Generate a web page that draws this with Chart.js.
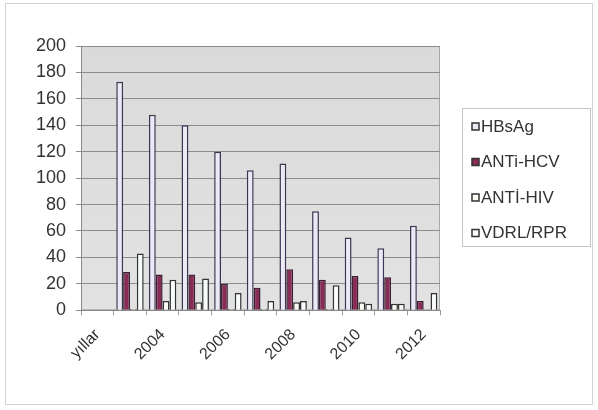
<!DOCTYPE html>
<html>
<head>
<meta charset="utf-8">
<script src="https://cdn.jsdelivr.net/npm/chart.js@4.4.1/dist/chart.umd.min.js"></script>
<style>
    body { margin: 0; background: #ffffff; }
    #frame { position: absolute; left: 5px; top: 3px; width: 586px; height: 400px; border: 1px solid #d4d4d4; }
    #wrap { position: absolute; left: 0; top: 0; width: 598px; height: 410px; }
</style>
</head>
<body>
<div id="frame"></div>
<div id="wrap"><canvas id="chart" width="598" height="410"></canvas></div>
<script>
// values
const years = ['yıllar', '2003', '2004', '2005', '2006', '2007', '2008', '2009', '2010', '2011', '2012'];
const hbsag = [null, 173, 148, 140, 120, 106, 111, 75, 55, 47, 64];
const antiHcv = [null, 29, 27, 27, 20, 17, 31, 23, 26, 25, 7];
const antiHiv = [null, 1, 7, 6, 1, 1, 6, 1, 6, 5, 0];
const vdrl = [null, 43, 23, 24, 13, 7, 7, 19, 5, 5, 13];
const yTicks = [0, 20, 40, 60, 80, 100, 120, 140, 160, 180, 200];

const FONT = 'Liberation Sans, Arial, sans-serif';

// gray plot area
const plotBg = {
    id: 'plotBg',
    beforeDraw(chart) {
        const a = chart.chartArea;
        const ctx = chart.ctx;
        const g = ctx.createLinearGradient(0, a.top, 0, a.bottom);
        g.addColorStop(0, '#dadada');
        g.addColorStop(1, '#e2e2e2');
        ctx.save();
        ctx.fillStyle = g;
        ctx.fillRect(a.left, a.top, a.right - a.left, a.bottom - a.top);
        ctx.strokeStyle = '#a8a8a8';
        ctx.lineWidth = 1;
        ctx.strokeRect(a.left + 0.5, a.top + 0.5, a.right - a.left - 1, a.bottom - a.top - 1);
        ctx.restore();
    }
};

// framed legend on the right, Excel style
const boxLegend = {
    id: 'boxLegend',
    afterDraw(chart) {
        const ctx = chart.ctx;
        const left = chart.chartArea.right + 22;
        const top = 108;
        const w = 128, h = 138;
        ctx.save();
        ctx.strokeStyle = '#c4c4c4';
        ctx.lineWidth = 1;
        ctx.strokeRect(left + 0.5, top + 0.5, w, h);
        ctx.font = '17px ' + FONT;
        ctx.textBaseline = 'middle';
        chart.data.datasets.forEach((ds, i) => {
            const y = top + 19 + i * 35.5;
            ctx.fillStyle = ds.backgroundColor;
            ctx.fillRect(left + 10, y - 4, 7, 7);
            ctx.strokeStyle = '#333333';
            ctx.lineWidth = 1.5;
            ctx.strokeRect(left + 10, y - 4, 7, 7);
            ctx.fillStyle = '#333333';
            ctx.fillText(ds.label, left + 19, y);
        });
        ctx.restore();
    }
};

const ctx = document.getElementById('chart').getContext('2d');
new Chart(ctx, {
    type: 'bar',
    data: {
        labels: years,
        datasets: [
            { label: 'HBsAg', data: hbsag, backgroundColor: '#ece9f6', borderColor: '#3b3550' },
            { label: 'ANTi-HCV', data: antiHcv, backgroundColor: '#8a2b57', borderColor: '#3a2030' },
            { label: 'ANTİ-HIV', data: antiHiv, backgroundColor: '#fbfbf4', borderColor: '#333333' },
            { label: 'VDRL/RPR', data: vdrl, backgroundColor: '#f7fbfb', borderColor: '#333333' }
        ]
    },
    options: {
        responsive: false,
        animation: false,
        devicePixelRatio: 1,
        datasets: {
            bar: {
                borderWidth: 1.5,
                categoryPercentage: 0.84,
                barPercentage: 1.0,
                borderSkipped: 'bottom'
            }
        },
        layout: {
            padding: { left: 26, top: 46, right: 158, bottom: 36 }
        },
        plugins: {
            legend: { display: false },
            tooltip: { enabled: false }
        },
        scales: {
            x: {
                offset: true,
                grid: {
                    offset: true,
                    drawOnChartArea: false,
                    drawTicks: true,
                    tickLength: 5,
                    color: '#9a9a9a'
                },
                border: { color: '#8a8a8a', width: 1 },
                ticks: {
                    autoSkip: false,
                    maxRotation: 45,
                    minRotation: 45,
                    padding: 10,
                    color: '#333333',
                    font: { family: FONT, size: 16 },
                    callback: function (value, index) {
                        return index % 2 === 0 ? years[index] : '';
                    }
                }
            },
            y: {
                min: 0,
                max: 200,
                afterBuildTicks(axis) {
                    axis.ticks = yTicks.map(v => ({ value: v }));
                },
                grid: {
                    color: '#8c8c8c',
                    lineWidth: 1,
                    tickLength: 5
                },
                border: { color: '#8a8a8a', width: 1 },
                ticks: {
                    color: '#333333',
                    padding: 10,
                    font: { family: FONT, size: 18 }
                }
            }
        }
    },
    plugins: [plotBg, boxLegend]
});
</script>
</body>
</html>
